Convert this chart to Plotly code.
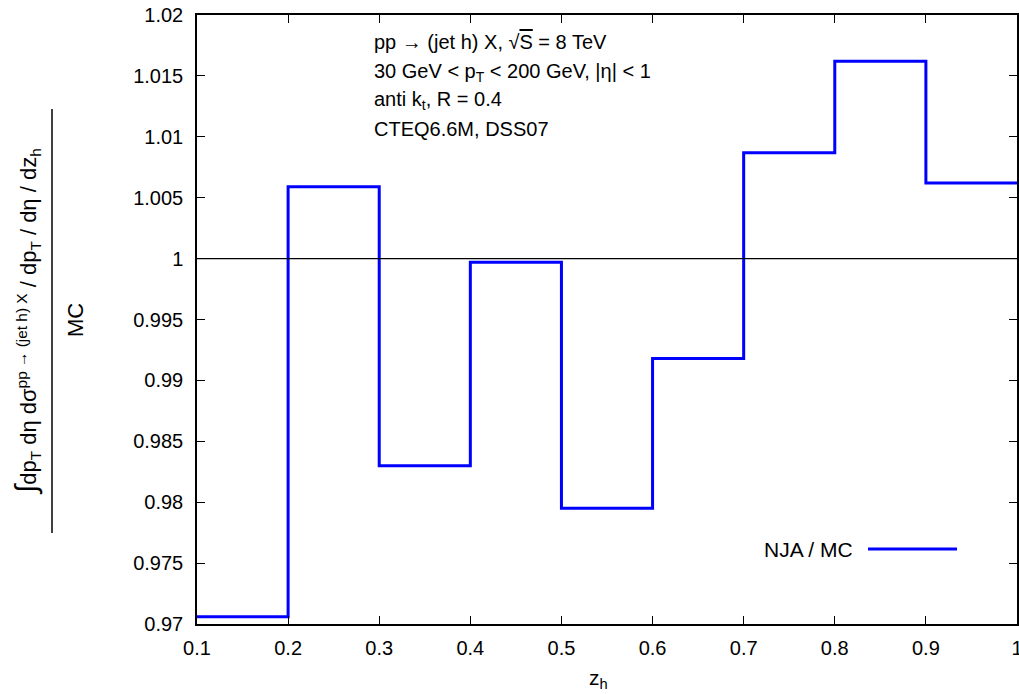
import plotly.graph_objects as go

# z_h bin edges and NJA / MC ratio per bin
bin_edges = [0.1, 0.2, 0.3, 0.4, 0.5, 0.6, 0.7, 0.8, 0.9, 1.0]
ratio = [0.9706, 1.0059, 0.9830, 0.9997, 0.9795, 0.9918, 1.0087, 1.0162, 1.0062]

x_ticks = [0.1, 0.2, 0.3, 0.4, 0.5, 0.6, 0.7, 0.8, 0.9, 1.0]
x_tick_text = ["0.1", "0.2", "0.3", "0.4", "0.5", "0.6", "0.7", "0.8", "0.9", "1"]
y_ticks = [0.97, 0.975, 0.98, 0.985, 0.99, 0.995, 1.0, 1.005, 1.01, 1.015, 1.02]
y_tick_text = ["0.97", "0.975", "0.98", "0.985", "0.99", "0.995", "1",
               "1.005", "1.01", "1.015", "1.02"]

W, H = 1019, 694
L, R, T, B = 197, 2, 15, 70
FONT = "Liberation Sans, Arial, Helvetica, sans-serif"


def px(x):
    return (x - L) / (W - L - R)


def py(y):
    return (H - B - y) / (H - T - B)


# histogram-style step line: value held across each bin
step_x = bin_edges
step_y = ratio + [ratio[-1]]

fig = go.Figure()
fig.add_trace(go.Scatter(
    x=step_x, y=step_y, mode="lines", line_shape="hv",
    line=dict(color="#0000ff", width=3), showlegend=False,
))

axis_common = dict(
    showgrid=False, zeroline=False, showline=True, linecolor="black",
    linewidth=1.5, mirror="ticks", ticks="inside", ticklen=8,
    tickcolor="black", tickwidth=1.2,
    tickfont=dict(family=FONT, size=20, color="black"),
    ticklabeloverflow="allow", automargin=False,
)

fig.update_xaxes(range=[0.1, 1.0], tickvals=x_ticks, ticktext=x_tick_text,
                 ticklabelstandoff=5, **axis_common)
fig.update_yaxes(range=[0.97, 1.02], tickvals=y_ticks, ticktext=y_tick_text,
                 ticklabelstandoff=8, **axis_common)

shapes = [
    # reference line at ratio = 1
    dict(type="line", xref="paper", yref="y", x0=0, x1=1, y0=1, y1=1,
         line=dict(color="black", width=1.2)),
    # fraction bar of the y-axis label
    dict(type="line", xref="paper", yref="paper", x0=px(52), x1=px(52),
         y0=py(533), y1=py(109), line=dict(color="black", width=1.5)),
    # key sample
    dict(type="line", xref="paper", yref="paper", x0=px(868), x1=px(957),
         y0=py(549), y1=py(549), line=dict(color="#0000ff", width=3)),
]

info_lines = [
    "pp → (jet h) X, √<span style='text-decoration:overline'>S</span> = 8 TeV",
    "30 GeV < p<sub>T</sub> < 200 GeV, |η| < 1",
    "anti k<sub>t</sub>, R = 0.4",
    "CTEQ6.6M, DSS07",
]
info_y = [42, 72, 100, 129]

annotations = []
for txt, yy in zip(info_lines, info_y):
    annotations.append(dict(
        text=txt, xref="paper", yref="paper", x=px(372), y=py(yy),
        xanchor="left", yanchor="middle", showarrow=False,
        font=dict(family=FONT, size=20, color="black"),
    ))

annotations += [
    dict(text="NJA / MC", xref="paper", yref="paper", x=px(855), y=py(549),
         xanchor="right", yanchor="middle", showarrow=False,
         font=dict(family=FONT, size=21, color="black")),
    dict(text="z<sub>h</sub>", xref="paper", yref="paper", x=px(598), y=py(679),
         xanchor="center", yanchor="middle", showarrow=False,
         font=dict(family=FONT, size=21, color="black")),
    dict(text="<span style='font-size:30px'>∫</span>dp<sub>T</sub> dη dσ"
              "<sup>pp → (jet h) X</sup> / dp<sub>T</sub> / dη / dz<sub>h</sub>",
         xref="paper", yref="paper", x=px(27), y=py(322), textangle=-90,
         xanchor="center", yanchor="middle", showarrow=False,
         font=dict(family=FONT, size=22, color="black")),
    dict(text="MC", xref="paper", yref="paper", x=px(76), y=py(320),
         textangle=-90, xanchor="center", yanchor="middle", showarrow=False,
         font=dict(family=FONT, size=22, color="black")),
]

fig.update_layout(
    width=W, height=H,
    margin=dict(l=L, r=R, t=T, b=B, autoexpand=False),
    paper_bgcolor="white", plot_bgcolor="white",
    shapes=shapes, annotations=annotations,
    font=dict(family=FONT, color="black"),
)

fig.write_html("out.html")
